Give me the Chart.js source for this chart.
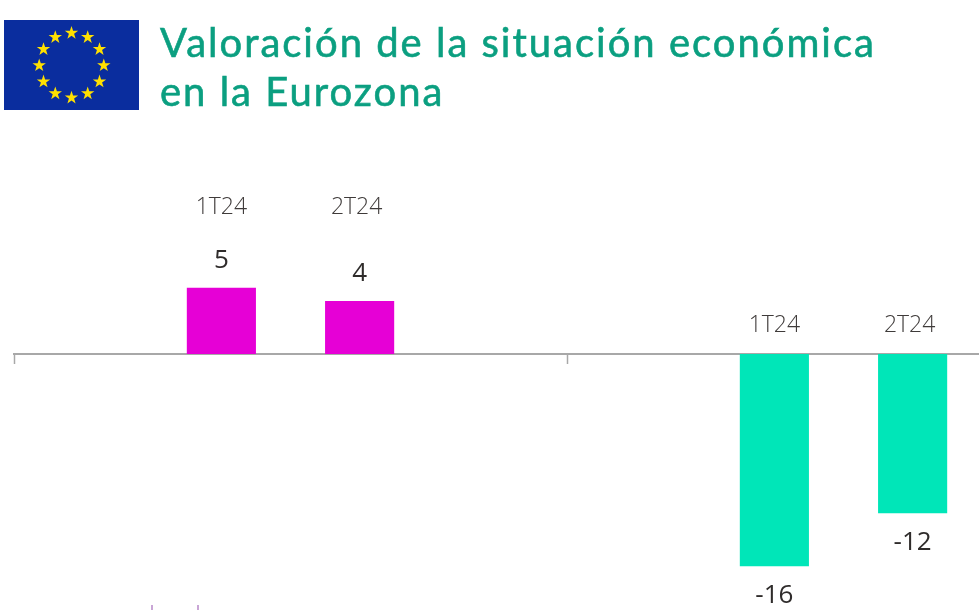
<!DOCTYPE html>
<html lang="es">
<head>
<meta charset="utf-8">
<title>Valoración de la situación económica en la Eurozona</title>
<script src="https://cdn.jsdelivr.net/npm/chart.js@4"></script>
<style>
  html, body { margin: 0; padding: 0; background: #fff; overflow: hidden; }
  body { width: 979px; height: 610px; position: relative; }
  #flag { position: absolute; left: 4px; top: 20px; width: 135px; height: 90px; }
  #title {
    position: absolute; left: 160px; top: 18px; margin: 0;
    font: 400 40px/49px Lato, sans-serif; letter-spacing: 2px; color: #0b9f80;
    -webkit-text-stroke: 0.6px #0b9f80;
  }
  #chart { position: absolute; left: 0; top: 0; }
  .cut { position: absolute; top: 605px; width: 1.5px; height: 5px; background: #c9a6d6; }
</style>
</head>
<body>
<canvas id="chart" width="1120" height="610"></canvas>
<svg id="flag" viewBox="0 0 135 90">
  <defs>
    <polygon id="star" fill="#ffe000" points="0,-7 1.6,-2.2 6.7,-2.2 2.6,0.8 4.1,5.7 0,2.8 -4.1,5.7 -2.6,0.8 -6.7,-2.2 -1.6,-2.2"/>
  </defs>
  <rect width="135" height="90" fill="#0a2d9e"/>
  <use href="#star" x="67.5" y="13"/>
  <use href="#star" x="83.7" y="17.3"/>
  <use href="#star" x="95.5" y="29.2"/>
  <use href="#star" x="99.8" y="45.4"/>
  <use href="#star" x="95.5" y="61.6"/>
  <use href="#star" x="83.7" y="73.5"/>
  <use href="#star" x="67.5" y="77.8"/>
  <use href="#star" x="51.3" y="73.5"/>
  <use href="#star" x="39.5" y="61.6"/>
  <use href="#star" x="35.2" y="45.4"/>
  <use href="#star" x="39.5" y="29.2"/>
  <use href="#star" x="51.3" y="17.3"/>
</svg>
<h1 id="title">Valoración de la situación económica<br>en la Eurozona</h1>
<div class="cut" style="left:151px"></div>
<div class="cut" style="left:197px"></div>
<script>
// two groups of four slots, the first and last slot of each group are empty
const categories = ["", "1T24", "2T24", "", "", "1T24", "2T24", ""];
const values = [null, 5, 4, null, null, -16, -12, null];
const barColors = ["", "#e600d6", "#e600d6", "", "", "#00e6b8", "#00e6b8", ""];

// period and value labels around the bars
const barLabels = {
  id: "barLabels",
  afterDatasetsDraw(chart) {
    const ctx = chart.ctx;
    const x = chart.scales.x;
    const y = chart.scales.y;
    ctx.save();
    ctx.textAlign = "center";
    ctx.textBaseline = "middle";
    values.forEach((v, i) => {
      if (v === null) return;
      const px = x.getPixelForValue(i);
      const zero = y.getPixelForValue(0);
      const periodY = v > 0 ? zero - 147 : zero - 29;
      const valueY = y.getPixelForValue(v) + (v > 0 ? -27 : 29);
      // the 2T24 labels sit a little left of their bars in the original
      const shift = i % 4 === 2 ? -3 : 0;
      ctx.font = "300 23px 'Open Sans'";
      ctx.fillStyle = "#3f3b3a";
      ctx.fillText(categories[i], px + shift, periodY);
      ctx.font = "26px 'Open Sans'";
      ctx.fillStyle = "#2f2c2b";
      ctx.fillText(String(v), px, valueY);
    });
    ctx.restore();
  }
};

new Chart(document.getElementById("chart"), {
  type: "bar",
  data: {
    labels: categories,
    datasets: [{
      data: values,
      backgroundColor: barColors,
      barPercentage: 0.5,
      categoryPercentage: 1
    }]
  },
  options: {
    responsive: false,
    animation: false,
    layout: { padding: { left: 14 } },
    plugins: { legend: { display: false }, tooltip: { enabled: false } },
    scales: {
      x: {
        position: { y: 0 },
        border: { color: "#a8a8a8", width: 2 },
        grid: {
          offset: true,
          drawOnChartArea: false,
          tickLength: 9,
          tickWidth: 1.5,
          tickColor: ctx => (ctx.index % 4 === 0 ? "#a8a8a8" : "rgba(0,0,0,0)")
        },
        ticks: { display: false }
      },
      y: {
        display: false,
        min: -19.3,
        max: 26.7
      }
    }
  },
  plugins: [barLabels]
});
</script>
</body>
</html>
